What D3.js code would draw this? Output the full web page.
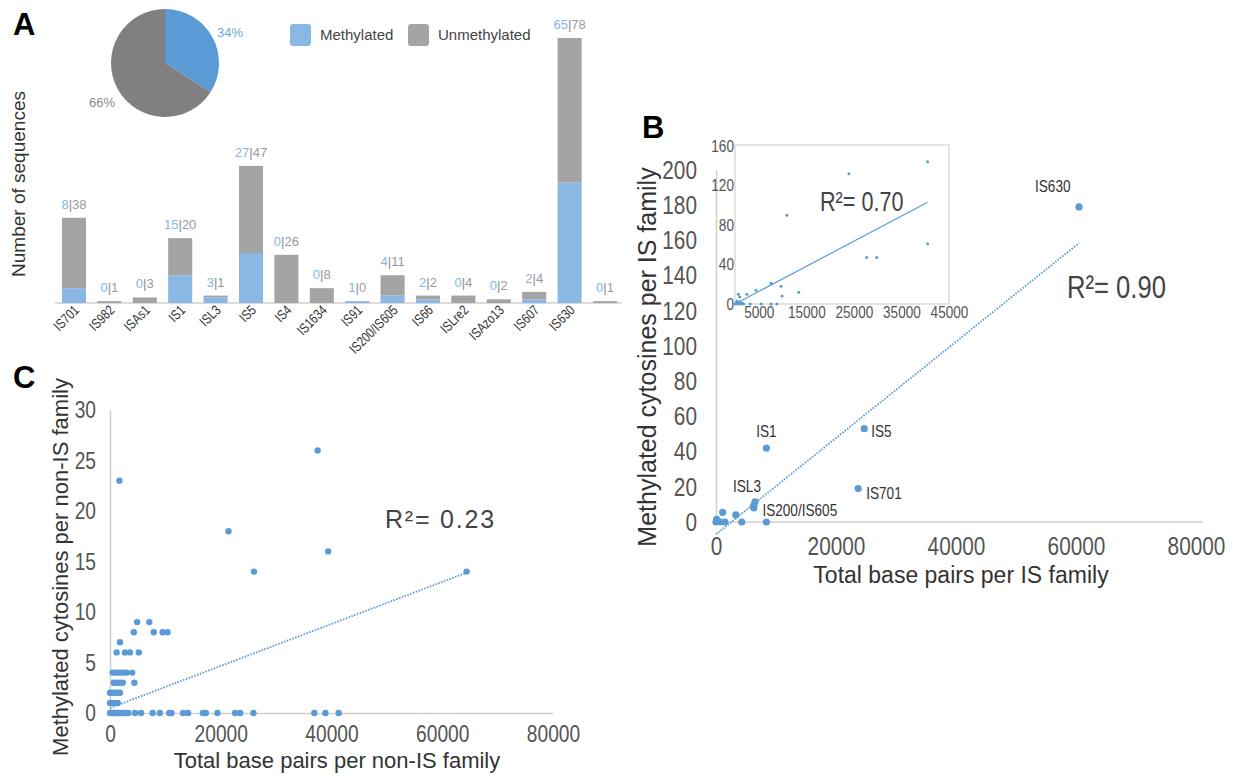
<!DOCTYPE html>
<html>
<head>
<meta charset="utf-8">
<script src="https://cdn.jsdelivr.net/npm/d3@7"></script>
<style>
  body { margin: 0; background: #fff; }
  svg { display: block; }
</style>
</head>
<body>
<svg id="chart" width="1240" height="774"></svg>
<script>
// ---- Panel A: IS family sequences ----
const families = ['IS701', 'IS982', 'ISAs1', 'IS1', 'ISL3', 'IS5', 'IS4', 'IS1634', 'IS91',
  'IS200/IS605', 'IS66', 'ISLre2', 'ISAzo13', 'IS607', 'IS630', ''];
const methylated = [8, 0, 0, 15, 3, 27, 0, 0, 1, 4, 2, 0, 0, 2, 65, 0];
const unmethylated = [38, 1, 3, 20, 1, 47, 26, 8, 0, 11, 2, 4, 2, 4, 78, 1];
const pieShares = [34, 66];
const pieLabels = ['34%', '66%'];
const legendLabels = ['Methylated', 'Unmethylated'];

// ---- Panel B: methylated cytosines vs base pairs per IS family ----
const bX = [60500, 24700, 23700, 8400, 6500, 6300, 6300, 8400, 3300, 1100, 100, 0, 700, 1500, 4300];
const bY = [179, 53, 19, 42, 11.5, 9.5, 8, 0, 4, 5.5, 1.5, 0, 0, 0, 0];
const bNames = ['IS630', 'IS5', 'IS701', 'IS1', 'ISL3', '', '', 'IS200/IS605', '', '', '', '', '', '', ''];
const bTrend = [[0, -7], [60500, 158.5]];
const bXTicks = [0, 20000, 40000, 60000, 80000];
const bYTicks = [0, 20, 40, 60, 80, 100, 120, 140, 160, 180, 200];

// inset of panel B
const insetX = [23950, 40500, 10900, 40500, 27700, 29800, 7600, 9700, 9900, 13400, 4400, 2500, 700, 1000,
  3200, 5500, 7600, 8800, 0, 300, 600, 900, 1200, 1500, 1800, 400, 1000];
const insetY = [132, 144, 90, 61, 47, 47, 21, 18, 8, 12, 14, 10, 10, 7,
  0, 0, 0, 0, 0, 1, 0, 2, 0, 1, 0, 3, 2];
const insetTrend = [[0, 0], [40500, 103]];
const insetXTicks = [5000, 15000, 25000, 35000, 45000];
const insetYTicks = [0, 40, 80, 120, 160];

// ---- Panel C: non-IS families ----
const cX = [1700, 21400, 26000, 37500, 39400, 64400,
  4900, 7100, 4300, 7900, 9500, 10400, 1800, 1200, 2700, 3600, 5200,
  500, 1000, 1500, 2000, 2500, 3000, 4000,
  700, 1200, 1700, 2300, 4400,
  0, 400, 800, 1300, 1800,
  0, 500, 1000, 1400,
  0, 300, 600, 900, 1200, 1500, 1800, 2100, 2400, 2700, 3000, 3300, 4500, 5600, 7700, 9000,
  10700, 11100, 13200, 14100, 16800, 17300, 19400, 22600, 23500, 25900, 36900, 38900, 41300];
const cY = [23, 18, 14, 26, 16, 14,
  9, 9, 8, 8, 8, 8, 7, 6, 6, 6, 6,
  4, 4, 4, 4, 4, 4, 4,
  3, 3, 3, 3, 3,
  2, 2, 2, 2, 2,
  1, 1, 1, 1,
  0, 0, 0, 0, 0, 0, 0, 0, 0, 0, 0, 0, 0, 0, 0, 0,
  0, 0, 0, 0, 0, 0, 0, 0, 0, 0, 0, 0, 0];
const cTrend = [[0, 0.5], [64400, 13.9]];
const cXTicks = [0, 20000, 40000, 60000, 80000];
const cYTicks = [0, 5, 10, 15, 20, 25, 30];

const BLUE = '#5b9bd5';
const SANS = "'Liberation Sans', Arial, sans-serif";
const SQUEEZE = 0.8; // no condensed face installed, so narrow texts get squeezed at the end

const svg = d3.select('#chart');

// panel letters
[['A', 13, 35], ['B', 642, 138], ['C', 13, 388]].forEach(([t, x, y]) => {
  svg.append('text').attr('x', x).attr('y', y)
    .attr('font-family', SANS).attr('font-weight', 'bold').attr('font-size', 31)
    .attr('fill', '#000').text(t);
});

// ===== Panel A =====
const gA = svg.append('g');
const idx = families.map((d, i) => i);
const xA = d3.scaleBand().domain(idx).range([56.3, 622.7]).paddingInner(0.32).paddingOuter(0.16);
const yA = d3.scaleLinear().domain([0, 143]).range([303, 38]);

gA.append('line')
  .attr('x1', 55).attr('x2', 622).attr('y1', yA(0)).attr('y2', yA(0))
  .attr('stroke', '#cfcfcf').attr('stroke-width', 1.5);

idx.forEach(i => {
  const m = methylated[i], u = unmethylated[i];
  gA.append('rect').attr('x', xA(i)).attr('width', xA.bandwidth())
    .attr('y', yA(m)).attr('height', yA(0) - yA(m)).attr('fill', '#8ab7e4');
  gA.append('rect').attr('x', xA(i)).attr('width', xA.bandwidth())
    .attr('y', yA(m + u)).attr('height', yA(m) - yA(m + u)).attr('fill', '#a4a4a4');

  const cx = xA(i) + xA.bandwidth() / 2;
  const lab = gA.append('text').attr('x', cx).attr('y', yA(m + u) - 9)
    .attr('text-anchor', 'middle').attr('font-family', SANS).attr('font-size', 13);
  lab.append('tspan').attr('fill', '#86b4e2').text(m);
  lab.append('tspan').attr('fill', '#8c8c8c').text('|');
  lab.append('tspan').attr('fill', '#9a9a9a').text(u);

  if (families[i]) {
    gA.append('text').attr('class', 'narrow')
      .attr('transform', `translate(${cx + 6},${yA(0) + 8}) rotate(-45)`)
      .attr('text-anchor', 'end').attr('font-family', SANS).attr('font-size', 14)
      .attr('fill', '#333').text(families[i]);
  }
});

gA.append('text')
  .attr('transform', 'translate(25,184) rotate(-90)')
  .attr('text-anchor', 'middle').attr('font-family', SANS).attr('font-size', 19)
  .attr('fill', '#333').text('Number of sequences');

// pie
const pie = d3.pie().sort(null).value(d => d)(pieShares);
const arc = d3.arc().innerRadius(0).outerRadius(54);
const gPie = gA.append('g').attr('transform', 'translate(165,63)');
gPie.selectAll('path').data(pie).join('path')
  .attr('d', arc).attr('fill', (d, i) => i === 0 ? BLUE : '#808080');
[[230, 37, '#6ea7dd'], [102, 107, '#8a8a8a']].forEach(([x, y, c], i) => {
  gA.append('text').attr('x', x).attr('y', y).attr('text-anchor', 'middle')
    .attr('font-family', SANS).attr('font-size', 13).attr('fill', c).text(pieLabels[i]);
});

// legend
[[290, '#8ab7e4'], [408, '#a4a4a4']].forEach(([x, c], i) => {
  gA.append('rect').attr('x', x).attr('y', 24).attr('width', 21).attr('height', 22)
    .attr('rx', 3).attr('fill', c);
  gA.append('text').attr('x', x + 30).attr('y', 40)
    .attr('font-family', SANS).attr('font-size', 15).attr('fill', '#444').text(legendLabels[i]);
});

// ===== helpers for scatter panels =====
function styleAxis(g, size) {
  g.select('.domain').attr('stroke', '#cfcfcf').attr('stroke-width', 1.5);
  g.selectAll('text').attr('class', 'narrow')
    .attr('font-family', SANS).attr('font-size', size).attr('fill', '#555');
}

function dotted(g, x, y, pts) {
  g.append('path')
    .attr('d', d3.line().x(d => x(d[0])).y(d => y(d[1]))(pts))
    .attr('fill', 'none').attr('stroke', BLUE).attr('stroke-width', 1.8)
    .attr('stroke-dasharray', '1.6,1.4');
}

// ===== Panel B =====
const gB = svg.append('g');
const xB = d3.scaleLinear().domain([0, 80000]).range([716, 1196]);
const yB = d3.scaleLinear().domain([0, 200]).range([522, 170]);

gB.append('g').attr('transform', `translate(0,${yB(0)})`)
  .call(d3.axisBottom(xB).tickValues(bXTicks).tickSize(0).tickPadding(15).tickFormat(d3.format('d')))
  .call(g => styleAxis(g, 26))
  .call(g => g.select('.domain').attr('d', 'M716,0H1203'));
gB.append('g').attr('transform', `translate(${xB(0)},0)`)
  .call(d3.axisLeft(yB).tickValues(bYTicks).tickSize(0).tickPadding(19))
  .call(g => styleAxis(g, 26));

dotted(gB, xB, yB, bTrend);

gB.selectAll('circle.b').data(bX).join('circle').attr('class', 'b')
  .attr('cx', d => xB(d)).attr('cy', (d, i) => yB(bY[i])).attr('r', 3.6).attr('fill', BLUE);

const bLabelPos = {
  'IS630': [-44, -15, 'start'], 'IS5': [7, 8, 'start'], 'IS701': [8, 10, 'start'],
  'IS1': [0, -11, 'middle'], 'ISL3': [-8, -10, 'middle'], 'IS200/IS605': [-4, -6, 'start']
};
bNames.forEach((n, i) => {
  if (!n) return;
  const [dx, dy, anchor] = bLabelPos[n];
  gB.append('text').attr('class', 'narrow').attr('x', xB(bX[i]) + dx).attr('y', yB(bY[i]) + dy)
    .attr('text-anchor', anchor).attr('font-family', SANS).attr('font-size', 17)
    .attr('fill', '#333').text(n);
});

gB.append('text').attr('class', 'narrow').attr('x', 1067).attr('y', 298)
  .attr('font-family', SANS).attr('font-size', 32).attr('fill', '#444').text('R²= 0.90');

gB.append('text')
  .attr('transform', 'translate(656,357) rotate(-90)')
  .attr('text-anchor', 'middle').attr('font-family', SANS).attr('font-size', 25)
  .attr('fill', '#333').text('Methylated cytosines per IS family');
gB.append('text').attr('x', 961).attr('y', 583).attr('text-anchor', 'middle')
  .attr('font-family', SANS).attr('font-size', 23).attr('fill', '#333')
  .text('Total base pairs per IS family');

// inset
const gI = svg.append('g');
const xI = d3.scaleLinear().domain([0, 45000]).range([735, 949]);
const yI = d3.scaleLinear().domain([0, 160]).range([304, 146]);
gI.append('rect').attr('x', 735).attr('y', 145).attr('width', 214).attr('height', 159)
  .attr('fill', '#fff').attr('stroke', '#d6d6d6').attr('stroke-width', 1.3);
gI.append('g').attr('transform', 'translate(0,304)')
  .call(d3.axisBottom(xI).tickValues(insetXTicks).tickSize(0).tickPadding(2).tickFormat(d3.format('d')))
  .call(g => { styleAxis(g, 17); g.select('.domain').remove(); });
gI.append('g').attr('transform', 'translate(735,0)')
  .call(d3.axisLeft(yI).tickValues(insetYTicks).tickSize(0).tickPadding(1))
  .call(g => { styleAxis(g, 17); g.select('.domain').remove(); });
gI.append('path')
  .attr('d', d3.line().x(d => xI(d[0])).y(d => yI(d[1]))(insetTrend))
  .attr('fill', 'none').attr('stroke', BLUE).attr('stroke-width', 1.2);
gI.selectAll('circle').data(insetX).join('circle')
  .attr('cx', d => xI(d)).attr('cy', (d, i) => yI(insetY[i])).attr('r', 1.5).attr('fill', BLUE);
gI.append('text').attr('class', 'narrow').attr('x', 820).attr('y', 211)
  .attr('font-family', SANS).attr('font-size', 27).attr('fill', '#444').text('R²= 0.70');

// ===== Panel C =====
const gC = svg.append('g');
const xC = d3.scaleLinear().domain([0, 80000]).range([110, 553]);
const yC = d3.scaleLinear().domain([0, 30]).range([713, 410]);

gC.append('g').attr('transform', `translate(0,${yC(0)})`)
  .call(d3.axisBottom(xC).tickValues(cXTicks).tickSize(0).tickPadding(12).tickFormat(d3.format('d')))
  .call(g => styleAxis(g, 24));
gC.append('g').attr('transform', `translate(${xC(0)},0)`)
  .call(d3.axisLeft(yC).tickValues(cYTicks).tickSize(0).tickPadding(14))
  .call(g => styleAxis(g, 24));

dotted(gC, xC, yC, cTrend);

gC.selectAll('circle').data(cX).join('circle')
  .attr('cx', d => xC(d)).attr('cy', (d, i) => yC(cY[i])).attr('r', 3.2).attr('fill', BLUE);

gC.append('text').attr('x', 385).attr('y', 528)
  .attr('font-family', SANS).attr('font-size', 25).attr('letter-spacing', 1.8)
  .attr('fill', '#444').text('R²= 0.23');

gC.append('text')
  .attr('transform', 'translate(68,567) rotate(-90)')
  .attr('text-anchor', 'middle').attr('font-family', SANS).attr('font-size', 22)
  .attr('fill', '#333').text('Methylated cytosines per non-IS family');
gC.append('text').attr('x', 337).attr('y', 768).attr('text-anchor', 'middle')
  .attr('font-family', SANS).attr('font-size', 22).attr('fill', '#333')
  .text('Total base pairs per non-IS family');

// squeeze the condensed-looking texts horizontally
svg.selectAll('text.narrow').each(function () {
  const w = this.getComputedTextLength();
  d3.select(this).attr('textLength', w * SQUEEZE).attr('lengthAdjust', 'spacingAndGlyphs');
});
</script>
</body>
</html>
